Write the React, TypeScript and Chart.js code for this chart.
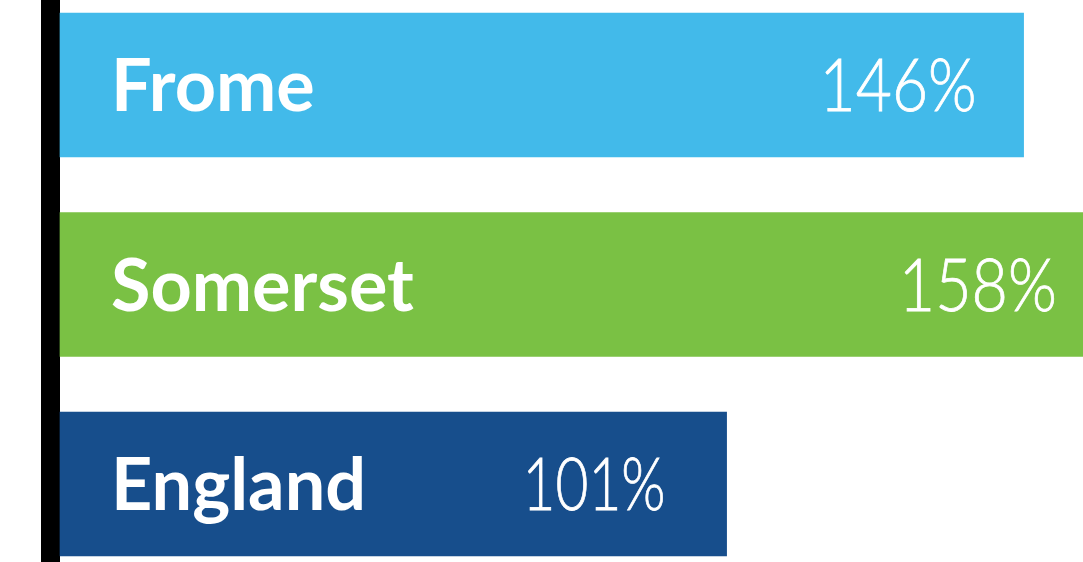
import React, { useEffect, useRef } from "react";
import { Chart, registerables } from "chart.js";

Chart.register(...registerables);

const categories = ["Frome", "Somerset", "England"];
const values = [146, 158, 101];
const valueLabels = ["146%", "158%", "101%"];
const barColors = ["#42BAEA", "#7AC144", "#174E8C"];
const labelWidths = [149, 150, 135];

const labelPlugin = {
  id: "barLabels",
  beforeDatasetsDraw(chart: any) {
    const { ctx, chartArea, height } = chart;
    ctx.save();
    ctx.fillStyle = "#000000";
    ctx.fillRect(chartArea.left - 19, 0, 19, height);
    ctx.restore();
  },
  afterDatasetsDraw(chart: any) {
    const { ctx, chartArea } = chart;
    const meta = chart.getDatasetMeta(0);
    ctx.save();
    ctx.fillStyle = "#ffffff";
    ctx.textBaseline = "alphabetic";
    ctx.textAlign = "left";
    meta.data.forEach((bar: any, i: number) => {
      const baseY = bar.y + 26;
      ctx.font = "bold 72px Lato";
      ctx.fillText(categories[i], chartArea.left + 51, baseY);
      ctx.font = "300 72px Lato";
      ctx.strokeStyle = "#ffffff";
      ctx.lineWidth = 0.8;
      ctx.fillText(valueLabels[i], bar.x - 204, baseY, labelWidths[i] + 8);
      ctx.strokeText(valueLabels[i], bar.x - 204, baseY, labelWidths[i] + 8);
    });
    ctx.restore();
  },
};

export default function App() {
  const ref = useRef<HTMLCanvasElement | null>(null);
  useEffect(() => {
    document.body.style.margin = "0";
    const chart = new Chart(ref.current as HTMLCanvasElement, {
      type: "bar",
      data: {
        labels: categories,
        datasets: [
          {
            data: values,
            backgroundColor: barColors,
            borderWidth: 0,
            barThickness: 144,
            clip: false as any,
          },
        ],
      },
      options: {
        indexAxis: "y",
        animation: false,
        responsive: false,
        maintainAspectRatio: false,
        layout: { padding: { left: 60, right: 0, top: 85, bottom: 78 } },
        plugins: { legend: { display: false }, tooltip: { enabled: false } },
        scales: {
          x: { display: false, min: 0, max: 155 },
          y: { display: false, offset: false },
        },
      },
      plugins: [labelPlugin],
    });
    return () => chart.destroy();
  }, []);
  return <canvas ref={ref} width={1083} height={562} style={{ display: "block" }} />;
}
